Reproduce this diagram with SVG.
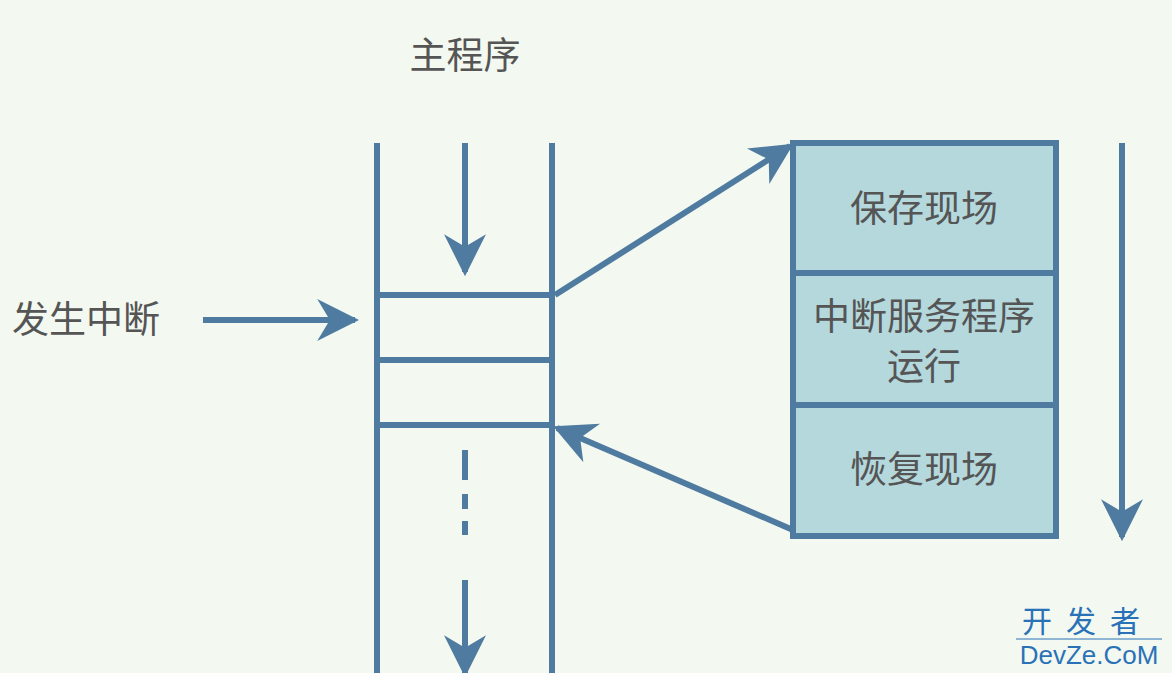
<svg xmlns="http://www.w3.org/2000/svg" width="1172" height="673" viewBox="0 0 1172 673">
<defs>
<marker id="ah" viewBox="0 0 10 10" refX="9" refY="5" markerWidth="7" markerHeight="7" markerUnits="strokeWidth" orient="auto"><path d="M0,0 L10,5 L0,10 L3,5 z" fill="#4f7ba0"/></marker>
<style>
.l{stroke:#4f7ba0;stroke-width:6;fill:none}
.t{font-family:"Noto Sans CJK SC",sans-serif;font-size:37px;fill:#555}
.w{font-family:"Noto Sans CJK SC",sans-serif;fill:#2a72b8}
</style>
</defs>
<rect width="1172" height="673" fill="#f3f8f0"/>
<g id="stack">
<line class="l" x1="377" y1="143" x2="377" y2="673"/>
<line class="l" x1="552" y1="143" x2="552" y2="673"/>
<line class="l" x1="377" y1="295" x2="552" y2="295"/>
<line class="l" x1="377" y1="360" x2="552" y2="360"/>
<line class="l" x1="377" y1="425" x2="552" y2="425"/>
</g>
<g id="box">
<rect x="793" y="143" width="263" height="393" fill="#b4d8dc" stroke="#4f7ba0" stroke-width="6"/>
<line class="l" x1="793" y1="273" x2="1056" y2="273"/>
<line class="l" x1="793" y1="405" x2="1056" y2="405"/>
<text class="t" x="924" y="222" text-anchor="middle">保存现场</text>
<text class="t" x="924" y="330" text-anchor="middle" font-size="36">中断服务程序</text>
<text class="t" x="924" y="380" text-anchor="middle" font-size="36">运行</text>
<text class="t" x="924" y="483" text-anchor="middle">恢复现场</text>
</g>
<g id="labels">
<text class="t" x="465" y="69" text-anchor="middle">主程序</text>
<text class="t" x="86" y="333" text-anchor="middle">发生中断</text>
</g>
<g id="connectors">
<line class="l" x1="465" y1="143" x2="465" y2="272" marker-end="url(#ah)"/>
<line class="l" x1="465" y1="450" x2="465" y2="535" stroke-dasharray="30,14,15,12"/>
<line class="l" x1="465" y1="580" x2="465" y2="673" marker-end="url(#ah)"/>
<line class="l" x1="203" y1="320" x2="355" y2="320" marker-end="url(#ah)"/>
<line class="l" x1="555" y1="295" x2="790" y2="146" marker-end="url(#ah)"/>
<line class="l" x1="793" y1="530" x2="557" y2="428" marker-end="url(#ah)"/>
<line class="l" x1="1122" y1="143" x2="1122" y2="537" marker-end="url(#ah)"/>
</g>
<g id="watermark">
<text class="w" x="1088" y="632" font-size="30" text-anchor="middle" letter-spacing="14">开发者</text>
<line x1="1016" y1="639" x2="1162" y2="639" stroke="#2a72b8" stroke-width="1"/>
<text x="1089" y="664" font-family="Liberation Sans,sans-serif" font-size="26" fill="#2a72b8" text-anchor="middle">DevZe.CoM</text>
</g>
</svg>
